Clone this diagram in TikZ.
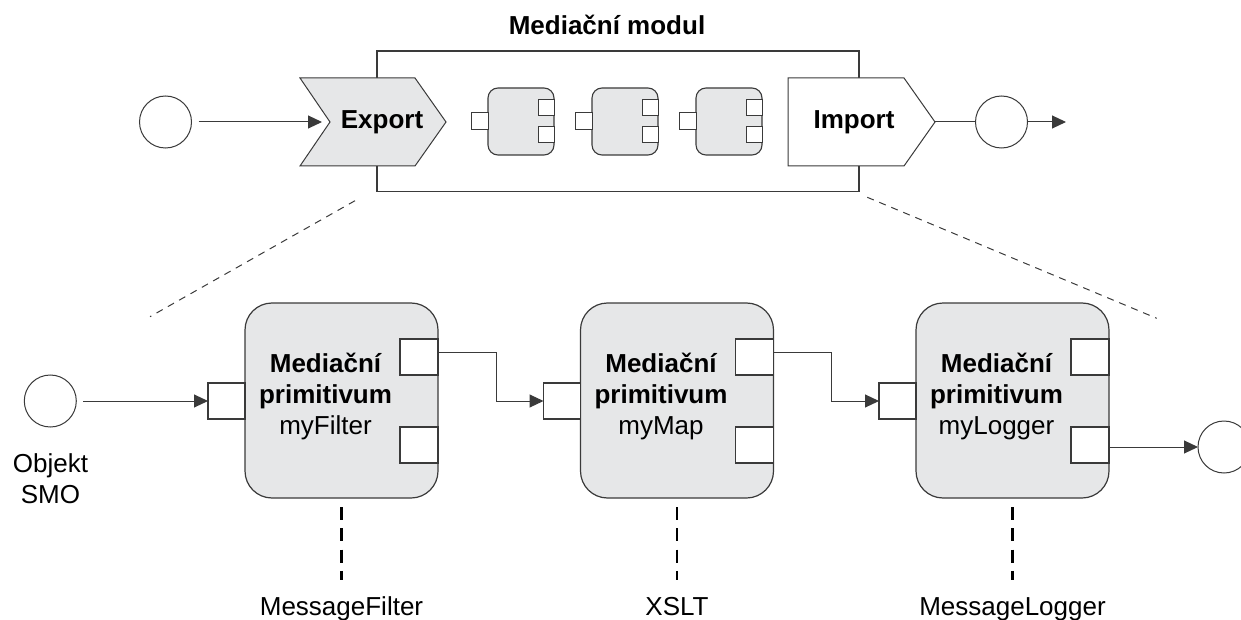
\documentclass[tikz,border=0pt]{standalone}
\usepackage{fontspec}
\setmainfont{Liberation Sans}
\usetikzlibrary{arrows.meta,calc}
\definecolor{boxfill}{HTML}{E6E7E8}
\definecolor{ln}{HTML}{3A3A3A}
\begin{document}
\begin{tikzpicture}[x=1pt,y=-1pt,
  every node/.style={inner sep=0pt, outer sep=0pt},
  txt/.style={font=\fontsize{26}{31}\selectfont, text=black},
  bold/.style={font=\fontsize{26}{31}\selectfont\bfseries, text=black},
  thin/.style={draw=ln, line width=1pt},
  arr/.style={thin, -{Triangle[length=14pt,width=13pt]}},
  modbox/.style={draw=ln, line width=1.2pt, minimum width=482pt, minimum height=140.5pt},
  comp/.style={draw=ln, line width=1.1pt, fill=boxfill, rounded corners=10pt, minimum width=66pt, minimum height=67pt},
  sport/.style={draw=ln, line width=1pt, fill=white, minimum width=16pt, minimum height=16.5pt},
  prim/.style={draw=ln, line width=1.2pt, fill=boxfill, rounded corners=27pt, minimum width=193pt, minimum height=195pt},
  bport/.style={draw=ln, line width=1.2pt, fill=white, minimum width=37pt, minimum height=36pt},
  circ/.style={circle, draw=ln, line width=1pt, minimum size=52pt, fill=white},
  zoomline/.style={draw=ln, line width=1pt, dash pattern=on 7pt off 6pt},
  impl/.style={draw=black, line width=2.2pt, dash pattern=on 13pt off 8.33pt, shorten <=9pt},
]
\useasboundingbox (0,0) rectangle (1241,620);
\clip (0,0) rectangle (1241,620);

% ---------- top: mediation module ----------
\node[bold, anchor=base] (title) at (607,35) {Mediační modul};
\node[modbox] (module) at (618,121.25) {};

% Export (chevron)
\draw[draw=ln, line width=1pt, fill=boxfill]
  (300,78) -- (415,78) -- (446,122) -- (415,166) -- (300,166) -- (330,122) -- cycle;
\coordinate (expin) at (330,122);
\node[bold, anchor=base] (export) at (382,128.5) {Export};

% Import (pentagon)
\draw[draw=ln, line width=1pt, fill=white]
  (788,78) -- (904,78) -- (935,122) -- (904,166) -- (788,166) -- cycle;
\coordinate (impout) at (935,122);
\node[bold, anchor=base] (import) at (854,128.5) {Import};

% small components
\foreach \i/\x in {1/521,2/625,3/729}{
  \node[comp] (k\i) at (\x,121.5) {};
  \node[sport, minimum width=17pt, minimum height=17pt, anchor=east] (k\i-l) at (k\i.west) {};
  \node[sport, anchor=east] (k\i-a) at ($(k\i.east)+(0,-14)$) {};
  \node[sport, anchor=east] (k\i-b) at ($(k\i.east)+(0,13.2)$) {};
}

% top circles and connectors
\node[circ] (c0) at (165.5,122) {};
\draw[arr, shorten <=7pt, shorten >=8pt] (c0) -- (expin);
\node[circ] (c1) at (1001.5,122) {};
\draw[thin] (impout) -- (c1);
\coordinate (end1) at (1066,122);
\draw[arr] (c1) -- (end1);

% zoom lines
\coordinate (zl1) at (355,200.7);
\coordinate (zl2) at (150,316.7);
\draw[zoomline] (zl1) -- (zl2);
\coordinate (zr1) at (867.3,197.3);
\coordinate (zr2) at (1156.7,318.3);
\draw[zoomline] (zr1) -- (zr2);

% ---------- bottom: mediation primitives ----------
\node[circ] (smo) at (50.3,401) {};
\node[txt, anchor=base] (smolab) at (50.5,472.7)
  {\begin{tabular}[t]{@{}c@{}}Objekt\\SMO\end{tabular}};

\foreach \p/\x/\lab/\il in {f/341.5/myFilter/MessageFilter, m/677/myMap/XSLT, l/1012.5/myLogger/MessageLogger}{
  \node[prim] (\p) at (\x,400.5) {};
  \node[bport, anchor=east] (\p-in) at ($(\p.west)+(0,0.5)$) {};
  \node[bport, minimum width=38pt, anchor=east] (\p-oa) at ($(\p.east)+(0,-43.5)$) {};
  \node[bport, minimum width=38pt, anchor=east] (\p-ob) at ($(\p.east)+(0,44.5)$) {};
  \node[txt, anchor=base] (\p-t) at ($(\p.west)+(80.5,-28.5)$)
    {\begin{tabular}[t]{@{}c@{}}\bfseries Mediační\\\bfseries primitivum\\\lab\end{tabular}};
  \coordinate (\p-e) at (\x,580);
  \draw[impl] (\p) -- (\p-e);
  \node[txt, anchor=base] (\p-i) at (\x,615) {\il};
}

\draw[arr, shorten <=7pt] (smo) -- (f-in);
\draw[arr] ($(f-oa.east)+(0,-5)$) -| ($(f-oa.east)!0.55!(m-in.west)$) |- (m-in.west);
\draw[arr] ($(m-oa.east)+(0,-5)$) -| ($(m-oa.east)!0.55!(l-in.west)$) |- (l-in.west);
\node[circ] (cend) at (1224,447) {};
\draw[arr] ($(l-ob.east)+(0,2)$) -- (cend);
\end{tikzpicture}
\end{document}
